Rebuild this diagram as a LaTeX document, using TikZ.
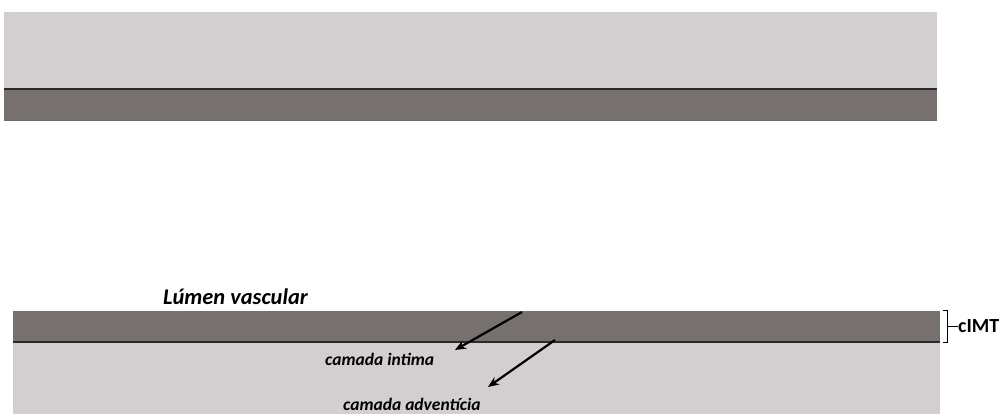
\documentclass[tikz,border=0pt]{standalone}
\usepackage{fontspec}
\setmainfont{Carlito}
\usetikzlibrary{arrows.meta}
\definecolor{lightlayer}{HTML}{D3CFD0}
\definecolor{darklayer}{HTML}{76716F}
\definecolor{edgeline}{HTML}{2E2A2B}
\begin{document}
\begin{tikzpicture}[x=1pt,y=-1pt,
  lightband/.style={fill=lightlayer,draw=none},
  darkband/.style={fill=darklayer,draw=none},
  boundary/.style={draw=edgeline,line width=1.4pt},
  pointer/.style={draw=black,line width=2.2pt,-{Stealth[length=11pt,width=9pt]}},
  label/.style={inner sep=0pt}]
\useasboundingbox (0,0) rectangle (1002,414);
% upper vessel wall
\fill[lightband] (4,12) rectangle (937,89);
\fill[darkband] (4,89) rectangle (937,120);
\draw[boundary] (4,89) -- (937,89);
\draw[draw=edgeline!70,line width=0.8pt] (4,120) -- (937,120);
% lower vessel wall
\fill[darkband] (13,311) rectangle (940,342);
\fill[lightband] (13,342) rectangle (940,414);
\draw[boundary] (13,342) -- (940,342);
% labels
\node[label,font=\bfseries\itshape\fontsize{22.4}{24}\selectfont,anchor=base west] (lumen) at (163,305) {Lúmen vascular};
\node[label,font=\bfseries\itshape\fontsize{17.5}{19}\selectfont,anchor=base west] (intima) at (325,365) {camada intima};
\node[label,font=\bfseries\itshape\fontsize{17.5}{19}\selectfont,anchor=base west] (advent) at (343,410) {camada adventícia};
% pointers
\coordinate (p1) at (522,312);
\coordinate (p2) at (555,340);
\coordinate (h1) at (455,350);
\coordinate (h2) at (488,387);
\draw[pointer] (p1) -- (h1);
\draw[pointer] (p2) -- (h2);
% thickness bracket
\coordinate (bt) at (943,311);
\coordinate (bb) at (943,342);
\draw[line width=1pt] (bt) -- ++(4,0) -- ++(0,31) -- (bb);
\coordinate (bm) at (947,326.5);
\node[font=\bfseries\fontsize{20}{22}\selectfont,inner sep=0pt,anchor=west] (cimt) at (958,326.5) {cIMT};
\draw[line width=1pt] (bm) -- (cimt.west);
\end{tikzpicture}
\end{document}
